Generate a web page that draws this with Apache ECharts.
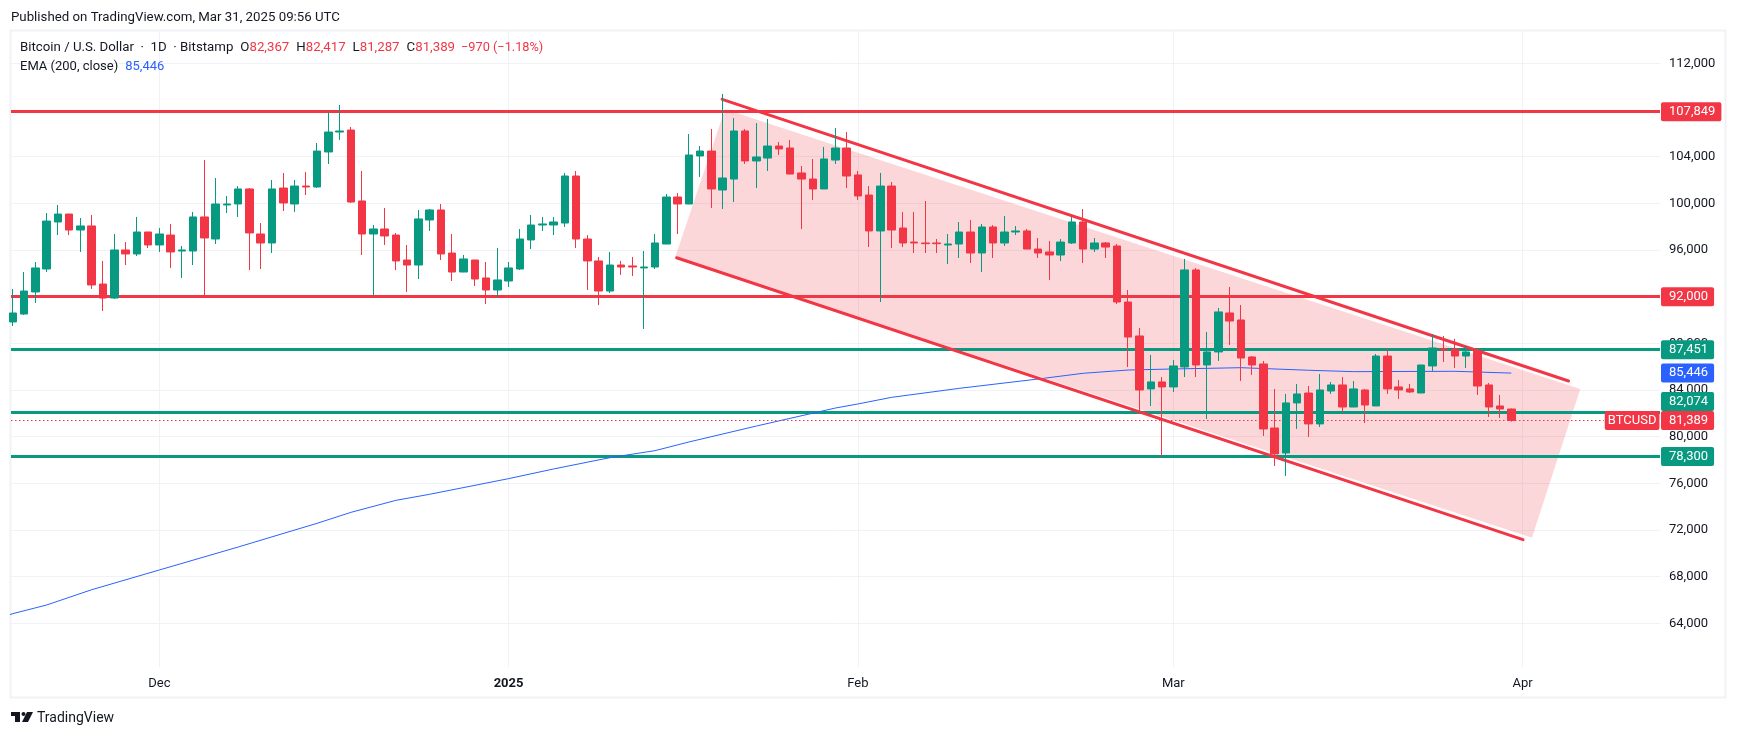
<!DOCTYPE html>
<html>
<head>
<meta charset="utf-8">
<title>BTCUSD</title>
<style>
html, body { margin: 0; padding: 0; background: #fff; }
#chart { width: 1737px; height: 737px; }
</style>
<script src="https://cdn.jsdelivr.net/npm/echarts@6/dist/echarts.min.js"></script>
</head>
<body>
<div id="chart"></div>
<script>
const firstDay = '2024-11-18'

const opens = [
    89830,90510,92400,94370,98400,99080,97710,98060,93080,91880,
    96000,95660,97540,96430,97280,95910,95910,98830,96940,99860,
    99940,101230,97370,96600,101310,99940,101480,101400,104400,106110,
    106280,100200,97370,97800,97280,95140,94710,98570,99430,95740,
    94110,95140,93600,92570,93340,94370,96860,98140,98140,98310,
    102340,96940,95060,92480,94710,94630,94460,94540,96510,100540,
    99940,104060,104480,101140,102080,106200,103630,103880,104910,104740,
    102600,102080,101230,103710,104740,102430,100710,97630,101480,97880,
    96680,96600,96600,96430,96510,97540,95740,97970,96600,97540,
    97630,96080,95830,95570,96600,98400,96080,96600,96340,91540,
    88630,84090,84690,84260,85970,94290,86140,87260,90600,90000,
    86830,86230,80740,78600,82890,83740,81090,83910,84430,82540,
    84000,82630,86910,84260,84090,83740,86060,87510,87510,86910,
    87340,84430,82630,82367
]
const closes = [
    90600,92480,94460,98480,99080,97710,98060,93000,91880,96000,
    95660,97540,96430,97370,95830,96000,98830,97030,99940,99940,
    101230,97460,96600,101230,100030,101480,101400,104480,106110,106200,
    100110,97370,97800,97200,95060,94710,98660,99430,95660,94110,
    95230,93510,92570,93430,94460,96940,98140,98230,98400,102340,
    96940,95060,92480,94710,94540,94540,94540,96600,100540,99940,
    104140,104480,101230,102170,106200,103630,103970,104910,104660,102510,
    102080,101230,103800,104740,102340,100630,97630,101480,97710,96600,
    96600,96540,96540,96510,97540,95740,97970,96600,97540,97630,
    96080,95740,95570,96680,98400,96080,96600,96250,91540,88540,
    84000,84690,84260,86060,94290,86140,87260,90690,89910,86740,
    86140,80660,78510,82890,83660,81090,84000,84430,82540,84090,
    82710,86910,84090,84000,83830,86140,87600,87430,86910,87260,
    84340,82540,82370,81389
]
const lows = [
    89480,90430,91460,94110,97280,97280,95830,92660,90770,91800,
    94710,95480,96170,95830,94460,93600,94710,92030,96510,99170,
    98830,94280,94370,95740,99340,99260,100710,101310,103370,105430,
    100030,95570,92110,96430,94280,92400,93510,97630,95140,93340,
    94100,92910,91370,91970,92830,94280,96080,97630,97280,97970,
    96170,92570,91280,92310,93860,93770,89230,94370,96500,97370,
    99930,102260,99600,99510,100110,103370,101310,102770,104140,102500,
    97800,100280,101220,103370,101310,100280,96250,91540,96170,96250,
    95740,95740,95740,94800,95310,94880,94110,95310,96340,97280,
    96070,95310,93430,95050,96510,94880,95830,95310,91370,85970,
    82200,82630,78260,83830,85110,85110,81510,86490,87860,84770,
    85290,80060,77490,76630,80660,79970,80830,83660,82030,82530,
    81170,82620,83660,83230,83740,83730,85630,86400,85890,85890,
    83570,81690,81600,81287
]
const highs = [
    92660,94110,94970,99170,99860,99090,98740,99000,95060,97370,
    96680,98830,97550,97880,98230,96340,99260,103710,102170,100630,
    101480,101310,98310,102000,102600,102000,102680,105170,107830,108430,
    106540,102770,98140,99600,97460,96430,99430,99510,99940,97370,
    95570,95150,94970,96170,94970,97800,99000,98830,98830,102600,
    102770,97280,95400,95830,95060,95400,95910,97370,100800,100880,
    105940,104910,106370,109370,107310,106370,106880,107230,105260,105430,
    103200,103800,104830,106450,106110,102770,101480,102600,101830,99250,
    99250,100200,96940,97370,98400,98570,98230,98140,98910,98050,
    97800,97030,96770,96940,98830,99510,97030,96680,96510,92570,
    89310,87000,85110,86570,95230,94460,88970,91030,92830,91290,
    86910,86490,84090,83660,84510,84340,85370,84690,85110,84770,
    84090,87090,87510,84860,84510,86150,88800,88630,88370,87770,
    87510,84600,83570,82417
]

const emaDates = ['2024-11-17','2024-11-18','2024-11-21','2024-11-25','2024-12-01','2024-12-08','2024-12-15','2024-12-18','2024-12-22','2024-12-25',
    '2025-01-01','2025-01-05','2025-01-10','2025-01-14','2025-01-17','2025-01-23','2025-01-30','2025-02-01','2025-02-04','2025-02-10',
    '2025-02-17','2025-02-21','2025-02-25','2025-03-01','2025-03-07','2025-03-13','2025-03-17','2025-03-26','2025-03-31']
const emaValues = [64500,64830,65570,66880,68570,70540,72570,73510,74540,75060,
    76400,77230,78200,78800,79540,80910,82450,82800,83370,84140,
    84940,85430,85710,85800,85910,85690,85570,85600,85446]

const levelValues = [107849, 92000, 87451, 82074, 78300]
const levelColors = ['#f23645', '#f23645', '#089981', '#089981', '#089981']
const lastPrice = 81389
const emaLast = 85446
const dayChange = '−970 (−1.18%)'

const upperDates = ['2025-01-19T23:00:00Z', '2025-04-05T02:00:00Z']
const upperPrices = [108914, 84770]
const lowerDates = ['2025-01-15T22:00:00Z', '2025-04-01T01:00:00Z']
const lowerPrices = [95337, 71167]
const fillDates = ['2025-01-20T05:00:00Z', '2025-04-06T03:00:00Z', '2025-04-01T20:00:00Z', '2025-01-15T19:00:00Z']
const fillPrices = [108057, 84085, 71340, 95398]

const yTicks = [64000,68000,72000,76000,80000,84000,88000,96000,100000,104000,112000]
const xTickDates = ['2024-12-01', '2025-01-01', '2025-02-01', '2025-03-01', '2025-04-01']
const xTickLabels = ['Dec', '{b|2025}', 'Feb', 'Mar', 'Apr']

const RED = '#f23645'
const GREEN = '#089981'
const BLUE = '#2962ff'
const FONT = 'Roboto, sans-serif'
const INK = '#131722'
const HIDDEN_LINE = { color: 'rgba(0,0,0,0)', width: 1, type: 'solid' }
const DOTTED_LINE = { color: RED, width: 1, type: [1.5, 2.5] }

function time(d) {
    return Date.parse(d.length === 10 ? d + 'T00:00:00Z' : d)
}
function fmt(v) {
    return Number(v).toLocaleString('en-US')
}

const candles = opens.map((o, i) => [time(firstDay) + i * 86400000, o, closes[i], lows[i], highs[i]])
const last = opens.length - 1

function tag(text, color, extra) {
    return Object.assign({
        show: true,
        position: 'end',
        distance: 1,
        formatter: text,
        color: '#fff',
        backgroundColor: color,
        borderRadius: 2,
        padding: [3, 6, 3, 8],
        fontFamily: FONT,
        fontSize: 13,
        lineHeight: 13
    }, extra)
}

const option = {
    animation: false,
    backgroundColor: '#fff',
    title: [
        {
            left: 11, top: 11,
            padding: 0,
            text: 'Published on TradingView.com, Mar 31, 2025 09:56 UTC',
            textStyle: { fontFamily: FONT, fontSize: 13.25, fontWeight: 'normal', color: INK }
        },
        {
            left: 20, top: 41,
            padding: 0,
            text: '{t|Bitcoin / U.S. Dollar  ·  1D  · Bitstamp}{k|O}{r|' + fmt(opens[last]) + '}{k|H}{r|' + fmt(highs[last]) +
                '}{k|L}{r|' + fmt(lows[last]) + '}{k|C}{r|' + fmt(closes[last]) + '}{c|' + dayChange + '}',
            textStyle: {
                fontFamily: FONT, fontSize: 13.25, fontWeight: 'normal',
                rich: {
                    t: { color: INK, fontFamily: FONT, fontSize: 13.25 },
                    k: { color: INK, fontFamily: FONT, fontSize: 13.25, padding: [0, 0, 0, 7] },
                    r: { color: RED, fontFamily: FONT, fontSize: 13.25 },
                    c: { color: RED, fontFamily: FONT, fontSize: 12.75, padding: [0, 0, 0, 6] }
                }
            }
        },
        {
            left: 20, top: 60,
            padding: 0,
            text: '{t|EMA (200, close)}{v|' + fmt(emaLast) + '}',
            textStyle: {
                fontFamily: FONT, fontSize: 13, fontWeight: 'normal',
                rich: {
                    t: { color: INK, fontFamily: FONT, fontSize: 13 },
                    v: { color: BLUE, fontFamily: FONT, fontSize: 13, padding: [0, 0, 0, 7] }
                }
            }
        },
        {
            left: 37, top: 711,
            padding: 0,
            text: 'TradingView',
            textStyle: { fontFamily: FONT, fontSize: 14, fontWeight: 'normal', color: INK }
        }
    ],
    graphic: [
        { type: 'rect', z: -1, silent: true, shape: { x: 10.5, y: 30.5, width: 1715, height: 667 }, style: { fill: 'none', stroke: '#f1f2f5', lineWidth: 2 } },
        { type: 'polygon', silent: true, shape: { points: [[11, 712], [20, 712], [20, 722], [15, 722], [15, 716], [11, 716]] }, style: { fill: INK } },
        { type: 'circle', silent: true, shape: { cx: 23.5, cy: 714, r: 2 }, style: { fill: INK } },
        { type: 'polygon', silent: true, shape: { points: [[27, 712], [33, 712], [28, 722], [22, 722]] }, style: { fill: INK } }
    ],
    grid: { left: 11, right: 77, top: 31, bottom: 70 },
    xAxis: {
        type: 'value',
        scale: true,
        min: time('2024-11-17T20:02:00Z'),
        max: time('2025-04-13T04:48:00Z'),
        axisLine: { show: false },
        axisTick: { show: false, customValues: xTickDates.map(time) },
        splitLine: { show: true, lineStyle: { color: '#f1f2f5', width: 1 } },
        axisLabel: {
            customValues: xTickDates.map(time),
            margin: 10,
            color: INK,
            fontFamily: FONT,
            fontSize: 13,
            formatter: v => xTickLabels[xTickDates.map(time).indexOf(v)] || '',
            rich: { b: { fontWeight: 'bold', color: INK, fontFamily: FONT, fontSize: 13 } }
        }
    },
    yAxis: {
        type: 'value',
        position: 'right',
        min: 60255,
        max: 114770,
        axisLine: { show: false },
        axisTick: { show: false, customValues: yTicks },
        splitLine: { show: true, lineStyle: { color: '#f1f2f5', width: 1 } },
        axisLabel: {
            customValues: yTicks,
            margin: 9,
            color: INK,
            fontFamily: FONT,
            fontSize: 13,
            formatter: v => fmt(v)
        }
    },
    series: [
        {
            type: 'custom',
            name: 'Channel',
            z: 1,
            silent: true,
            data: [[time(fillDates[0]), fillPrices[0]]],
            renderItem: (params, api) => ({
                type: 'polygon',
                shape: { points: fillDates.map((d, i) => api.coord([time(d), fillPrices[i]])) },
                style: { fill: 'rgba(242, 54, 69, 0.2)' }
            })
        },
        {
            type: 'line',
            name: 'Levels',
            data: [],
            silent: true,
            z: 2,
            markLine: {
                z: 3,
                silent: true,
                animation: false,
                symbol: 'none',
                data: levelValues.map((v, i) => ({
                    yAxis: v,
                    lineStyle: { color: levelColors[i], width: 3, type: 'solid' },
                    // 82,074 tag is pushed up so it does not sit on the price tag
                    label: tag(fmt(v), levelColors[i], v === 82074 ? { offset: [0, -11] } : {})
                }))
            }
        },
        {
            type: 'line',
            name: 'EMA (200, close)',
            data: emaDates.map((d, i) => [time(d), emaValues[i]]),
            showSymbol: false,
            symbol: 'none',
            silent: true,
            z: 3,
            lineStyle: { color: BLUE, width: 1 }
        },
        {
            type: 'line',
            name: 'Upper',
            data: upperDates.map((d, i) => [time(d), upperPrices[i]]),
            symbol: 'none',
            silent: true,
            z: 4,
            lineStyle: { color: RED, width: 3, cap: 'round' }
        },
        {
            type: 'line',
            name: 'Lower',
            data: lowerDates.map((d, i) => [time(d), lowerPrices[i]]),
            symbol: 'none',
            silent: true,
            z: 4,
            lineStyle: { color: RED, width: 3, cap: 'round' }
        },
        {
            type: 'line',
            name: 'Price',
            data: [],
            silent: true,
            z: 5,
            markLine: {
                z: 5,
                silent: true,
                animation: false,
                symbol: 'none',
                lineStyle: DOTTED_LINE,
                data: [
                    [
                        { coord: [time('2024-11-17T20:02:00Z'), lastPrice], lineStyle: DOTTED_LINE, label: tag('BTCUSD', RED, { padding: [3, 3, 3, 3] }) },
                        { coord: [time('2025-04-08T05:00:00Z'), lastPrice], lineStyle: DOTTED_LINE }
                    ],
                    { yAxis: emaLast, lineStyle: HIDDEN_LINE, label: tag(fmt(emaLast), BLUE) },
                    { yAxis: lastPrice, lineStyle: HIDDEN_LINE, label: tag(fmt(lastPrice), RED) }
                ]
            }
        },
        {
            type: 'candlestick',
            name: 'BTCUSD',
            z: 6,
            silent: true,
            barWidth: 8,
            data: candles,
            itemStyle: {
                color: GREEN,
                color0: RED,
                borderColor: GREEN,
                borderColor0: RED,
                borderWidth: 1
            }
        }
    ]
}

const chart = echarts.init(document.getElementById('chart'))
chart.setOption(option)
</script>
</body>
</html>
